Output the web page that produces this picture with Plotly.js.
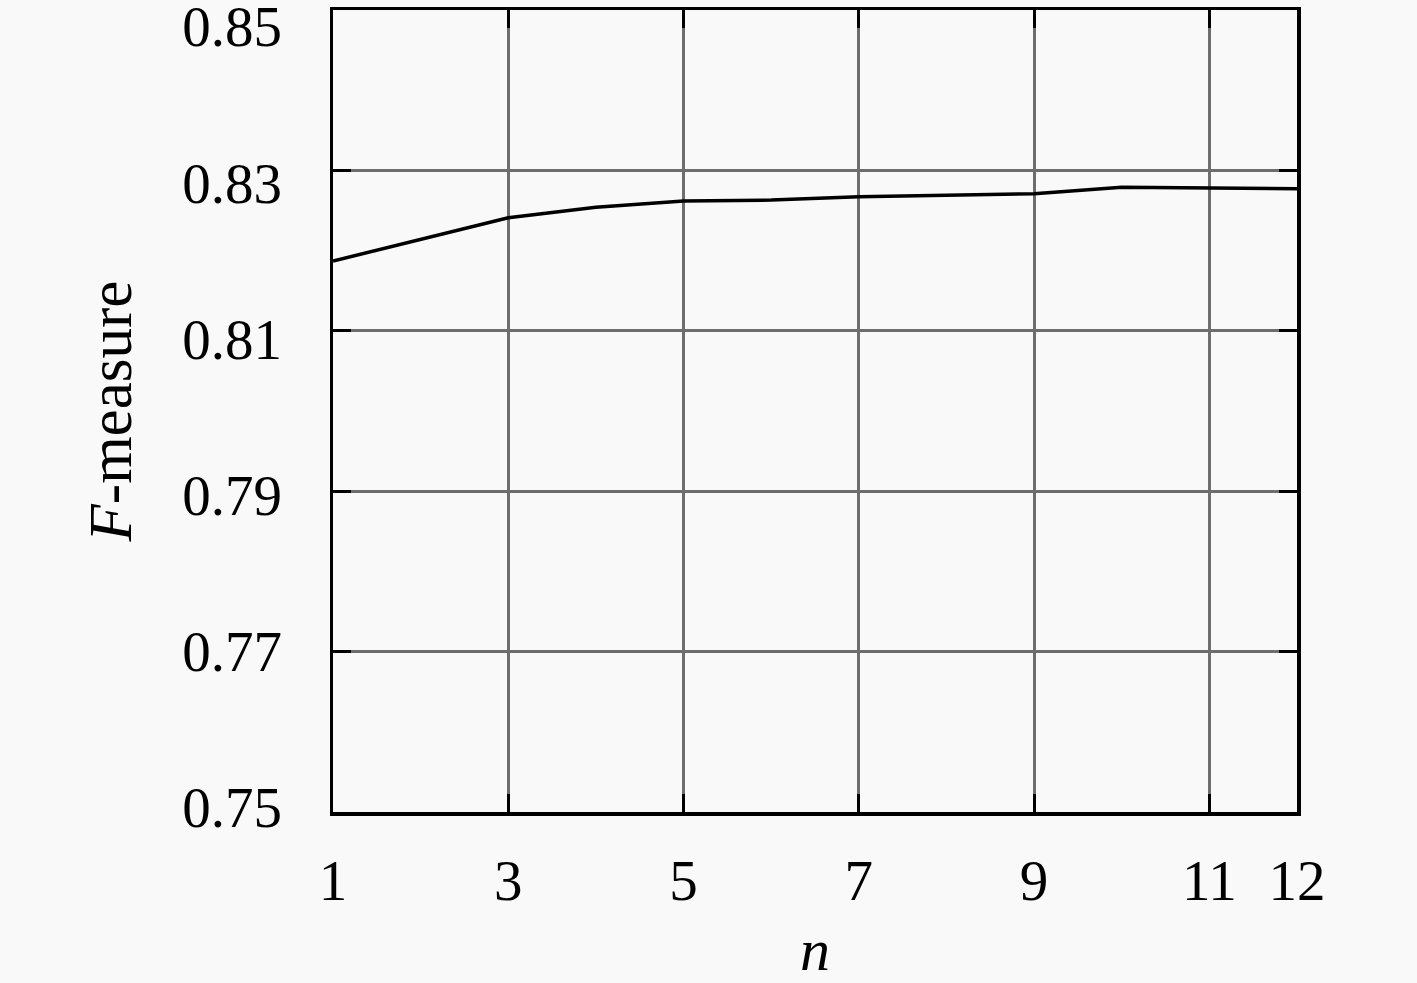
<!DOCTYPE html>
<html>
<head>
<meta charset="utf-8">
<script src="https://cdn.plot.ly/plotly-3.0.1.min.js"></script>
<style>html,body{margin:0;padding:0;background:#f9f9f9;}#chart{width:1417px;height:983px;}</style>
</head>
<body>
<div id="chart"></div>
<script>
var nValues = [1, 2, 3, 4, 5, 6, 7, 8, 9, 10, 11, 12];
var fMeasure = [0.8187, 0.8214, 0.8241, 0.8254, 0.8262, 0.8263, 0.8267, 0.8269, 0.8271, 0.8279, 0.8278, 0.8277];
var xTicks = [1, 3, 5, 7, 9, 11, 12];
var yTicks = [0.75, 0.77, 0.79, 0.81, 0.83, 0.85];
var yTickText = ['0.75', '0.77', '0.79', '0.81', '0.83', '0.85'];

var fontFam = '"Liberation Serif", "DejaVu Serif", serif';

var trace = {
  x: nValues,
  y: fMeasure,
  type: 'scatter',
  mode: 'lines',
  line: {color: '#000000', width: 3.5},
  hoverinfo: 'skip'
};

// empty trace that only carries the tick-label axis
var labelTrace = {x: [], y: [], type: 'scatter', mode: 'lines', yaxis: 'y2', hoverinfo: 'skip', showlegend: false};

var layout = {
  width: 1417,
  height: 983,
  paper_bgcolor: '#f9f9f9',
  plot_bgcolor: '#f9f9f9',
  showlegend: false,
  margin: {l: 333, r: 120, t: 10, b: 171},
  font: {family: fontFam, color: '#000000', size: 57},
  xaxis: {
    range: [1, 12],
    tickmode: 'array',
    tickvals: xTicks,
    ticktext: xTicks.map(String),
    ticks: 'inside',
    ticklen: 18,
    tickwidth: 3,
    tickcolor: '#000000',
    showline: true,
    linecolor: '#000000',
    linewidth: 3.5,
    mirror: 'ticks',
    showgrid: true,
    gridcolor: '#6e6e6e',
    gridwidth: 3,
    zeroline: false,
    ticklabelstandoff: 16,
    ticklabeloverflow: 'allow',
    tickfont: {family: fontFam, size: 57, color: '#000000'},
    title: {text: '<i>n</i>', font: {family: fontFam, size: 60, color: '#000000'}, standoff: 41}
  },
  yaxis: {
    range: [0.75, 0.85],
    tickmode: 'array',
    tickvals: yTicks,
    ticktext: yTickText,
    showticklabels: false,
    ticks: 'inside',
    ticklen: 18,
    tickwidth: 3,
    tickcolor: '#000000',
    showline: true,
    linecolor: '#000000',
    linewidth: 3.5,
    mirror: 'ticks',
    showgrid: true,
    gridcolor: '#6e6e6e',
    gridwidth: 3,
    zeroline: false
  },
  yaxis2: {
    overlaying: 'y',
    side: 'left',
    anchor: 'x',
    range: [0.74936, 0.85211],
    tickmode: 'array',
    tickvals: yTicks,
    ticktext: yTickText,
    ticks: '',
    showline: false,
    showgrid: false,
    zeroline: false,
    ticklabelstandoff: 50,
    ticklabeloverflow: 'allow',
    tickfont: {family: fontFam, size: 57, color: '#000000'},
    title: {text: '<i>F</i>-measure', font: {family: fontFam, size: 61, color: '#000000'}, standoff: 30}
  }
};

Plotly.newPlot('chart', [trace, labelTrace], layout, {displayModeBar: false, staticPlot: true});
</script>
</body>
</html>
